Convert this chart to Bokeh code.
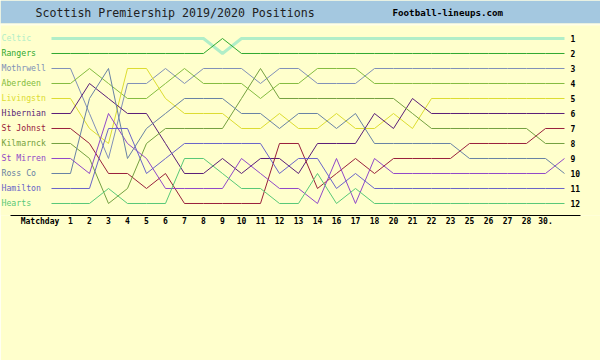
from bokeh.plotting import figure
from bokeh.models import Range1d, FixedTicker, BoxAnnotation, ColumnDataSource
from bokeh.embed import file_html
from bokeh.resources import INLINE
from bokeh.core.properties import value

# ---------------- data ----------------
teams = ["Celtic", "Rangers", "Mothrwell", "Aberdeen", "Livingstn", "Hibernian",
         "St Johnst", "Kilmarnck", "St Mirren", "Ross Co", "Hamilton", "Hearts"]
colors = ["#B0EEC8", "#30A830", "#8090B8", "#84BC40", "#DCDC30", "#5A1E78",
          "#98203C", "#74A040", "#9048C8", "#6882A4", "#6A64C8", "#58C878"]
matchday_labels = ["1", "2", "3", "4", "5", "6", "7", "8", "9", "10", "11", "12", "13",
                   "14", "16", "17", "18", "20", "21", "22", "23", "25", "26", "27", "28", "30."]
axis_title = "Matchday"
rank_labels = [str(i) for i in range(1, 13)]

celtic    = [1, 1, 1, 1, 1, 1, 1, 1, 2, 1, 1, 1, 1, 1, 1, 1, 1, 1, 1, 1, 1, 1, 1, 1, 1, 1, 1]
rangers   = [2, 2, 2, 2, 2, 2, 2, 2, 1, 2, 2, 2, 2, 2, 2, 2, 2, 2, 2, 2, 2, 2, 2, 2, 2, 2, 2]
motherwell= [3, 6, 9, 4, 4, 3, 4, 3, 3, 3, 4, 3, 3, 4, 4, 4, 3, 3, 3, 3, 3, 3, 3, 3, 3, 3, 3]
aberdeen  = [4, 3, 4, 5, 5, 4, 3, 4, 4, 4, 5, 4, 4, 3, 3, 3, 4, 4, 4, 4, 4, 4, 4, 4, 4, 4, 4]
livingston= [5, 7, 8, 3, 3, 5, 6, 6, 6, 7, 7, 6, 7, 7, 6, 7, 7, 6, 7, 5, 5, 5, 5, 5, 5, 5, 5]
hibernian = [6, 4, 5, 6, 6, 8, 10, 10, 9, 10, 9, 9, 10, 8, 8, 8, 6, 7, 5, 6, 6, 6, 6, 6, 6, 6, 6]
stjohnst  = [7, 8, 10, 10, 11, 10, 12, 12, 12, 12, 12, 8, 8, 11, 10, 9, 10, 9, 9, 9, 9, 8, 8, 8, 8, 7, 7]
kilmarnock= [8, 9, 12, 11, 8, 7, 7, 7, 7, 5, 3, 5, 5, 5, 5, 5, 5, 5, 6, 7, 7, 7, 7, 7, 7, 8, 8]
stmirren  = [9, 10, 6, 8, 9, 11, 11, 11, 11, 9, 10, 11, 11, 12, 9, 12, 9, 10, 10, 10, 10, 10, 10, 10, 10, 10, 9]
rosscounty= [10, 5, 3, 9, 7, 6, 5, 5, 5, 6, 6, 7, 6, 6, 7, 6, 8, 8, 8, 8, 8, 9, 9, 9, 9, 9, 10]
hamilton  = [11, 11, 7, 7, 10, 9, 8, 8, 8, 8, 8, 10, 9, 9, 11, 10, 11, 11, 11, 11, 11, 11, 11, 11, 11, 11, 11]
hearts    = [12, 12, 11, 12, 12, 12, 9, 9, 10, 11, 11, 12, 12, 10, 12, 11, 12, 12, 12, 12, 12, 12, 12, 12, 12, 12, 12]

positions = [celtic, rangers, motherwell, aberdeen, livingston, hibernian,
             stjohnst, kilmarnock, stmirren, rosscounty, hamilton, hearts]

# ---------------- layout ----------------
W, H = 600, 360
FRAME_H = 215
X0, X1 = -2.684, 28.895          # x range across the full width
YT, YB = -1.5333, 12.8           # y range (flipped: rank 1 on top)
xpx = (X1 - X0) / W
ypx = (YB - YT) / FRAME_H

def xd(px):
    return X0 + px * xpx

def yd(py):
    return YT + py * ypx

BG = "#FFFFCC"
p = figure(width=W, height=H, x_range=Range1d(X0, X1), y_range=Range1d(YB, YT),
           output_backend="svg", toolbar_location=None, y_axis_location=None,
           min_border_left=0, min_border_right=0, min_border_top=0, min_border_bottom=H - FRAME_H)
p.background_fill_color = BG
p.border_fill_color = BG
p.outline_line_color = None
p.grid.visible = False

# title bar
p.add_layout(BoxAnnotation(bottom=yd(23), fill_color="#A4C8E0", fill_alpha=1.0,
                           line_color=None, level="underlay"))
p.add_layout(BoxAnnotation(bottom=yd(25), top=yd(23), fill_color="#FFFFE8", fill_alpha=1.0,
                           line_color=None, level="underlay"))
p.text(x=[xd(35)], y=[yd(12)], text=["Scottish Premiership 2019/2020 Positions"],
       text_font=value("DejaVu Sans Mono"), text_font_size="11.6px", text_color="#202020",
       text_baseline="middle", text_align="left")
p.text(x=[xd(392)], y=[yd(12)], text=["Football-lineups.com"],
       text_font=value("DejaVu Sans Mono"), text_font_size="9.2px", text_font_style="bold",
       text_color="#000000", text_baseline="middle", text_align="left")

# team lines
n = len(celtic)
for name, col, pos in zip(teams, colors, positions):
    xs = [0] + list(range(1, n + 1))
    ys = [pos[0]] + pos
    lw = 3 if name == "Celtic" else 1
    p.line(xs, ys, line_color=col, line_width=lw)

# left team labels at starting rank
src = ColumnDataSource(dict(x=[xd(1)] * len(teams), y=[pos[0] for pos in positions],
                            text=teams, color=colors))
p.text(x="x", y="y", text="text", text_color="color", source=src,
       text_font=value("DejaVu Sans Mono"), text_font_size="8.2px",
       text_baseline="middle", text_align="left")

# right rank numbers
p.text(x=[xd(570)] * 12, y=list(range(1, 13)), text=rank_labels,
       text_font=value("DejaVu Sans Mono"), text_font_size="8px", text_font_style="bold",
       text_color="#000000", text_baseline="middle", text_align="left")

# x axis (the "Matchday" caption is placed as an extra label at its left end)
ax = p.xaxis[0]
title_tick = xd(39.5)
ticks = [title_tick] + list(range(1, len(matchday_labels) + 1))
ax.ticker = FixedTicker(ticks=ticks)
overrides = {i + 1: lab for i, lab in enumerate(matchday_labels)}
overrides[title_tick] = axis_title
ax.major_label_overrides = overrides
ax.major_label_text_font = "DejaVu Sans Mono"
ax.major_label_text_font_size = "8px"
ax.major_label_text_font_style = "bold"
ax.major_label_text_color = "#000000"
ax.major_label_standoff = 1
ax.major_tick_out = 0
ax.major_tick_in = 0
ax.major_tick_line_color = None
ax.minor_tick_line_color = None
ax.axis_line_color = "#000000"
ax.axis_line_width = 1
ax.bounds = (xd(10), xd(580))

open("out.html", "w").write(file_html(p, INLINE))
